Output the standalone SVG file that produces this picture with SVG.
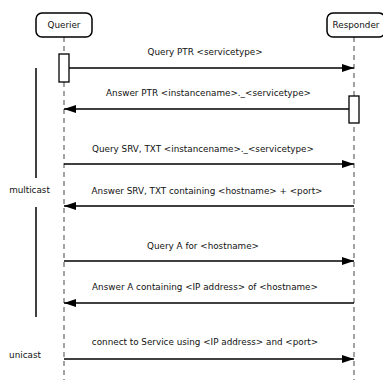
<svg xmlns="http://www.w3.org/2000/svg" width="383" height="380" viewBox="0 0 383 380">
<style>
text{font-family:"DejaVu Sans",Verdana,sans-serif;font-size:8.8px;fill:#111}
.lbl{text-anchor:middle}
.life{stroke:#666;stroke-width:1.2;stroke-dasharray:5,4;fill:none}
.box{fill:#fff;stroke:#000;stroke-width:1.5}
.msg{stroke:#000;stroke-width:1.5;fill:none}
.act{fill:#fff;stroke:#000;stroke-width:1.3}
.bar{stroke:#000;stroke-width:1.5}
</style>
<defs>
<marker id="ah" markerWidth="12" markerHeight="8" refX="12" refY="4" orient="auto" markerUnits="userSpaceOnUse">
<path d="M0,0 L12,4 L0,8 Z" fill="#000"/>
</marker>
</defs>
<rect width="383" height="380" fill="#fff"/>
<g id="lifelines">
<line class="life" x1="64" y1="37" x2="64" y2="380"/>
<line class="life" x1="354" y1="37" x2="354" y2="380"/>
</g>
<g id="querier">
<rect class="box" x="36" y="13" width="56" height="24" rx="6"/>
<text class="lbl" x="64" y="28">Querier</text>
</g>
<g id="responder">
<rect class="box" x="327" y="13" width="58" height="24" rx="6"/>
<text class="lbl" x="356" y="28">Responder</text>
</g>
<g id="activations">
<rect class="act" x="59" y="54" width="10" height="28"/>
<rect class="act" x="349" y="96" width="10" height="27"/>
</g>
<g id="connectors">
<line class="msg" x1="69" y1="68" x2="354" y2="68" marker-end="url(#ah)"/>
<line class="msg" x1="349" y1="109" x2="64" y2="109" marker-end="url(#ah)"/>
<line class="msg" x1="64" y1="164" x2="354" y2="164" marker-end="url(#ah)"/>
<line class="msg" x1="354" y1="206" x2="64" y2="206" marker-end="url(#ah)"/>
<line class="msg" x1="64" y1="261" x2="354" y2="261" marker-end="url(#ah)"/>
<line class="msg" x1="354" y1="303" x2="64" y2="303" marker-end="url(#ah)"/>
<line class="msg" x1="64" y1="359" x2="354" y2="359" marker-end="url(#ah)"/>
</g>
<g id="labels">
<text class="lbl" x="205" y="55">Query PTR &lt;servicetype&gt;</text>
<text class="lbl" x="208.5" y="96">Answer PTR &lt;instancename&gt;._&lt;servicetype&gt;</text>
<text class="lbl" x="203" y="152">Query SRV, TXT &lt;instancename&gt;._&lt;servicetype&gt;</text>
<text class="lbl" x="207" y="194">Answer SRV, TXT containing &lt;hostname&gt; + &lt;port&gt;</text>
<text class="lbl" x="203" y="249">Query A for &lt;hostname&gt;</text>
<text class="lbl" x="205" y="290">Answer A containing &lt;IP address&gt; of &lt;hostname&gt;</text>
<text class="lbl" x="205" y="345">connect to Service using &lt;IP address&gt; and &lt;port&gt;</text>
</g>
<g id="multicast">
<line class="bar" x1="36" y1="68" x2="36" y2="178"/>
<line class="bar" x1="36" y1="207" x2="36" y2="317"/>
<text class="lbl" x="29.5" y="193">multicast</text>
</g>
<g id="unicast">
<text class="lbl" x="25" y="358">unicast</text>
</g>
</svg>
